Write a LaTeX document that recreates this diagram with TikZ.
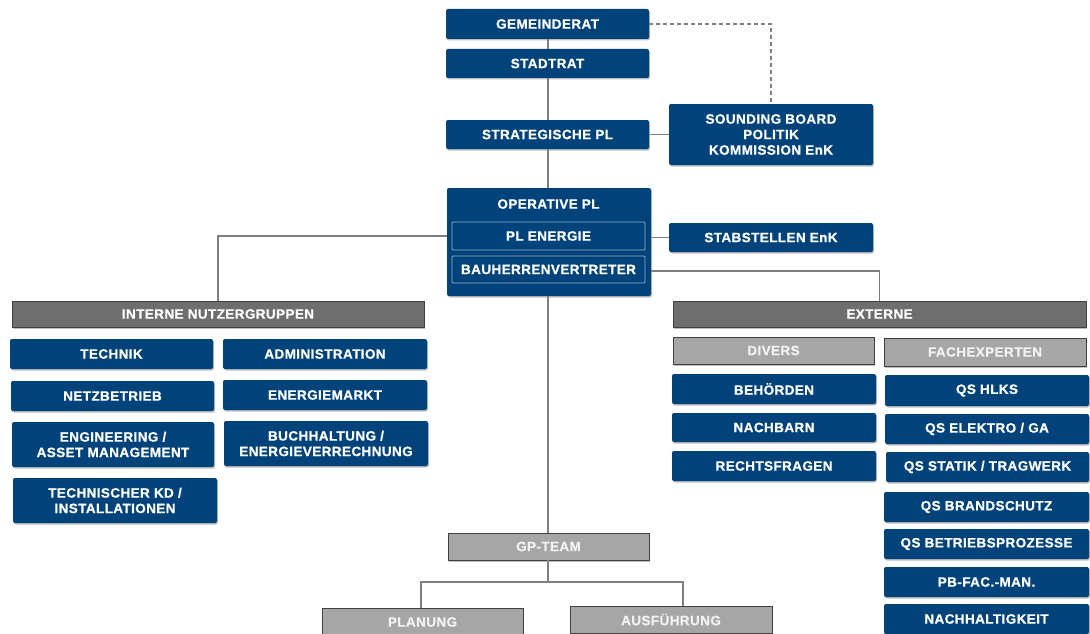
\documentclass[tikz,border=0pt]{standalone}
\usepackage{fontspec}
\setmainfont{Liberation Sans}[BoldFeatures={LetterSpace=3,FakeBold=0.8}]
\usetikzlibrary{shadows,calc}
\definecolor{bblue}{HTML}{00437A}
\definecolor{dgray}{HTML}{6E6E6E}
\definecolor{lgray}{HTML}{A6A6A6}
\definecolor{lnc}{HTML}{7F7F7F}
\definecolor{inb}{HTML}{9AAFC6}
\begin{document}
\begin{tikzpicture}[x=1pt,y=-1pt,
  base/.style={inner sep=0pt,outer sep=0pt,align=center,font=\fontsize{13.5}{15.5}\selectfont\bfseries,text=white},
  shd/.style={drop shadow={shadow xshift=1pt,shadow yshift=-1.5pt,fill=black,opacity=0.25}},
  bluebox/.style={base,shd,fill=bblue,rounded corners=2pt},
  innerbox/.style={base,fill=bblue,draw=inb,line width=0.8pt,rounded corners=1pt},
  headbox/.style={base,shd,fill=dgray,draw=black!75,line width=0.8pt},
  subbox/.style={base,shd,fill=lgray,draw=black!75,line width=0.8pt,text=white!95!black},
  conn/.style={draw=lnc,line width=1.2pt},
]
\useasboundingbox (0,0) rectangle (1090,634);
\fill[white] (0,0) rectangle (1090,634);
% top chain
\node[bluebox,minimum width=203pt,minimum height=30pt] (gr) at (547.5,24) {GEMEINDERAT};
\node[bluebox,minimum width=203pt,minimum height=29pt] (st) at (547.5,63.5) {STADTRAT};
\node[bluebox,minimum width=203pt,minimum height=29pt] (sp) at (547.5,134.5) {STRATEGISCHE PL};
\node[bluebox,minimum width=204pt,minimum height=61pt] (sb) at (771,134.5) {SOUNDING BOARD\\POLITIK\\KOMMISSION EnK};
% operative
\node[bluebox,minimum width=204pt,minimum height=108pt] (op) at (549,242) {};
\node[base] (opt) at (548.5,204) {OPERATIVE PL};
\node[innerbox,minimum width=193pt,minimum height=28pt] (ple) at (548.5,236) {PL ENERGIE};
\node[innerbox,minimum width=193pt,minimum height=27pt] (bv) at (548.5,269.5) {BAUHERRENVERTRETER};
\node[bluebox,minimum width=204pt,minimum height=29pt] (sta) at (771,237.5) {STABSTELLEN EnK};
% internal
\node[headbox,minimum width=412pt,minimum height=26pt] (int) at (218,314) {INTERNE NUTZERGRUPPEN};
\node[bluebox,minimum width=203pt,minimum height=30pt] (tec) at (111.5,354) {TECHNIK};
\node[bluebox,minimum width=204pt,minimum height=30pt] (adm) at (325,354) {ADMINISTRATION};
\node[bluebox,minimum width=203pt,minimum height=30pt] (net) at (112.5,396) {NETZBETRIEB};
\node[bluebox,minimum width=204pt,minimum height=30pt] (ema) at (325,395) {ENERGIEMARKT};
\node[bluebox,minimum width=202pt,minimum height=45pt] (eng) at (113,444.5) {ENGINEERING /\\ASSET MANAGEMENT};
\node[bluebox,minimum width=204pt,minimum height=45pt] (buc) at (326,443.5) {BUCHHALTUNG /\\ENERGIEVERRECHNUNG};
\node[bluebox,minimum width=204pt,minimum height=45pt] (tkd) at (115,500.5) {TECHNISCHER KD /\\INSTALLATIONEN};
% external
\node[headbox,minimum width=413pt,minimum height=26pt] (ext) at (879.5,314) {EXTERNE};
\node[subbox,minimum width=201pt,minimum height=27pt] (div) at (773.5,350.5) {DIVERS};
\node[subbox,minimum width=202pt,minimum height=28pt] (fac) at (985,352) {FACHEXPERTEN};
\node[bluebox,minimum width=204pt,minimum height=30pt] (beh) at (774,389) {BEHÖRDEN};
\node[bluebox,minimum width=204pt,minimum height=29pt] (nac) at (774,427.5) {NACHBARN};
\node[bluebox,minimum width=204pt,minimum height=30pt] (rec) at (774,466) {RECHTSFRAGEN};
\node[bluebox,minimum width=204pt,minimum height=31pt] (hlk) at (987,390.5) {QS HLKS};
\node[bluebox,minimum width=204pt,minimum height=30pt] (ele) at (987,429) {QS ELEKTRO / GA};
\node[bluebox,minimum width=203pt,minimum height=30pt] (sta2) at (987.5,467) {QS STATIK / TRAGWERK};
\node[bluebox,minimum width=205pt,minimum height=30pt] (bra) at (986.5,507) {QS BRANDSCHUTZ};
\node[bluebox,minimum width=205pt,minimum height=30pt] (bet) at (986.5,544) {QS BETRIEBSPROZESSE};
\node[bluebox,minimum width=205pt,minimum height=30pt] (pbf) at (986.5,582) {PB-FAC.-MAN.};
\node[bluebox,minimum width=205pt,minimum height=30pt] (nah) at (986.5,619) {NACHHALTIGKEIT};
% GP team
\node[subbox,minimum width=201pt,minimum height=27pt] (gp) at (548.5,546.5) {GP-TEAM};
\node[subbox,minimum width=201pt,minimum height=28pt] (pla) at (422.5,622) {PLANUNG};
\node[subbox,minimum width=202pt,minimum height=27pt] (aus) at (671,619.5) {AUSFÜHRUNG};
\coordinate (gpj) at (548,582);
% connectors
\draw[conn] (gr.south -| gpj) -- (st.north -| gpj);
\draw[conn] (st.south -| gpj) -- (sp.north -| gpj);
\draw[conn] (sp.south -| gpj) -- (op.north -| gpj);
\draw[conn] (op.south -| gpj) -- (gp.north -| gpj);
\draw[conn,dashed,dash pattern=on 4pt off 3pt] (gr.east) -| (sb.north);
\draw[conn] (sp.east) -- (sb.west);
\draw[conn] (ple.west -| op.west) -| (int.north);
\draw[conn] (sta.west -| op.east) -- (sta.west);
\draw[conn] ([yshift=-1.5pt]bv.east -| op.east) -| (ext.north);
\draw[conn] (gp.south -| gpj) -- (gpj) -| ([xshift=-1.5pt]pla.north);
\draw[conn] (gpj) -| ([xshift=12pt]aus.north);
\end{tikzpicture}
\end{document}
